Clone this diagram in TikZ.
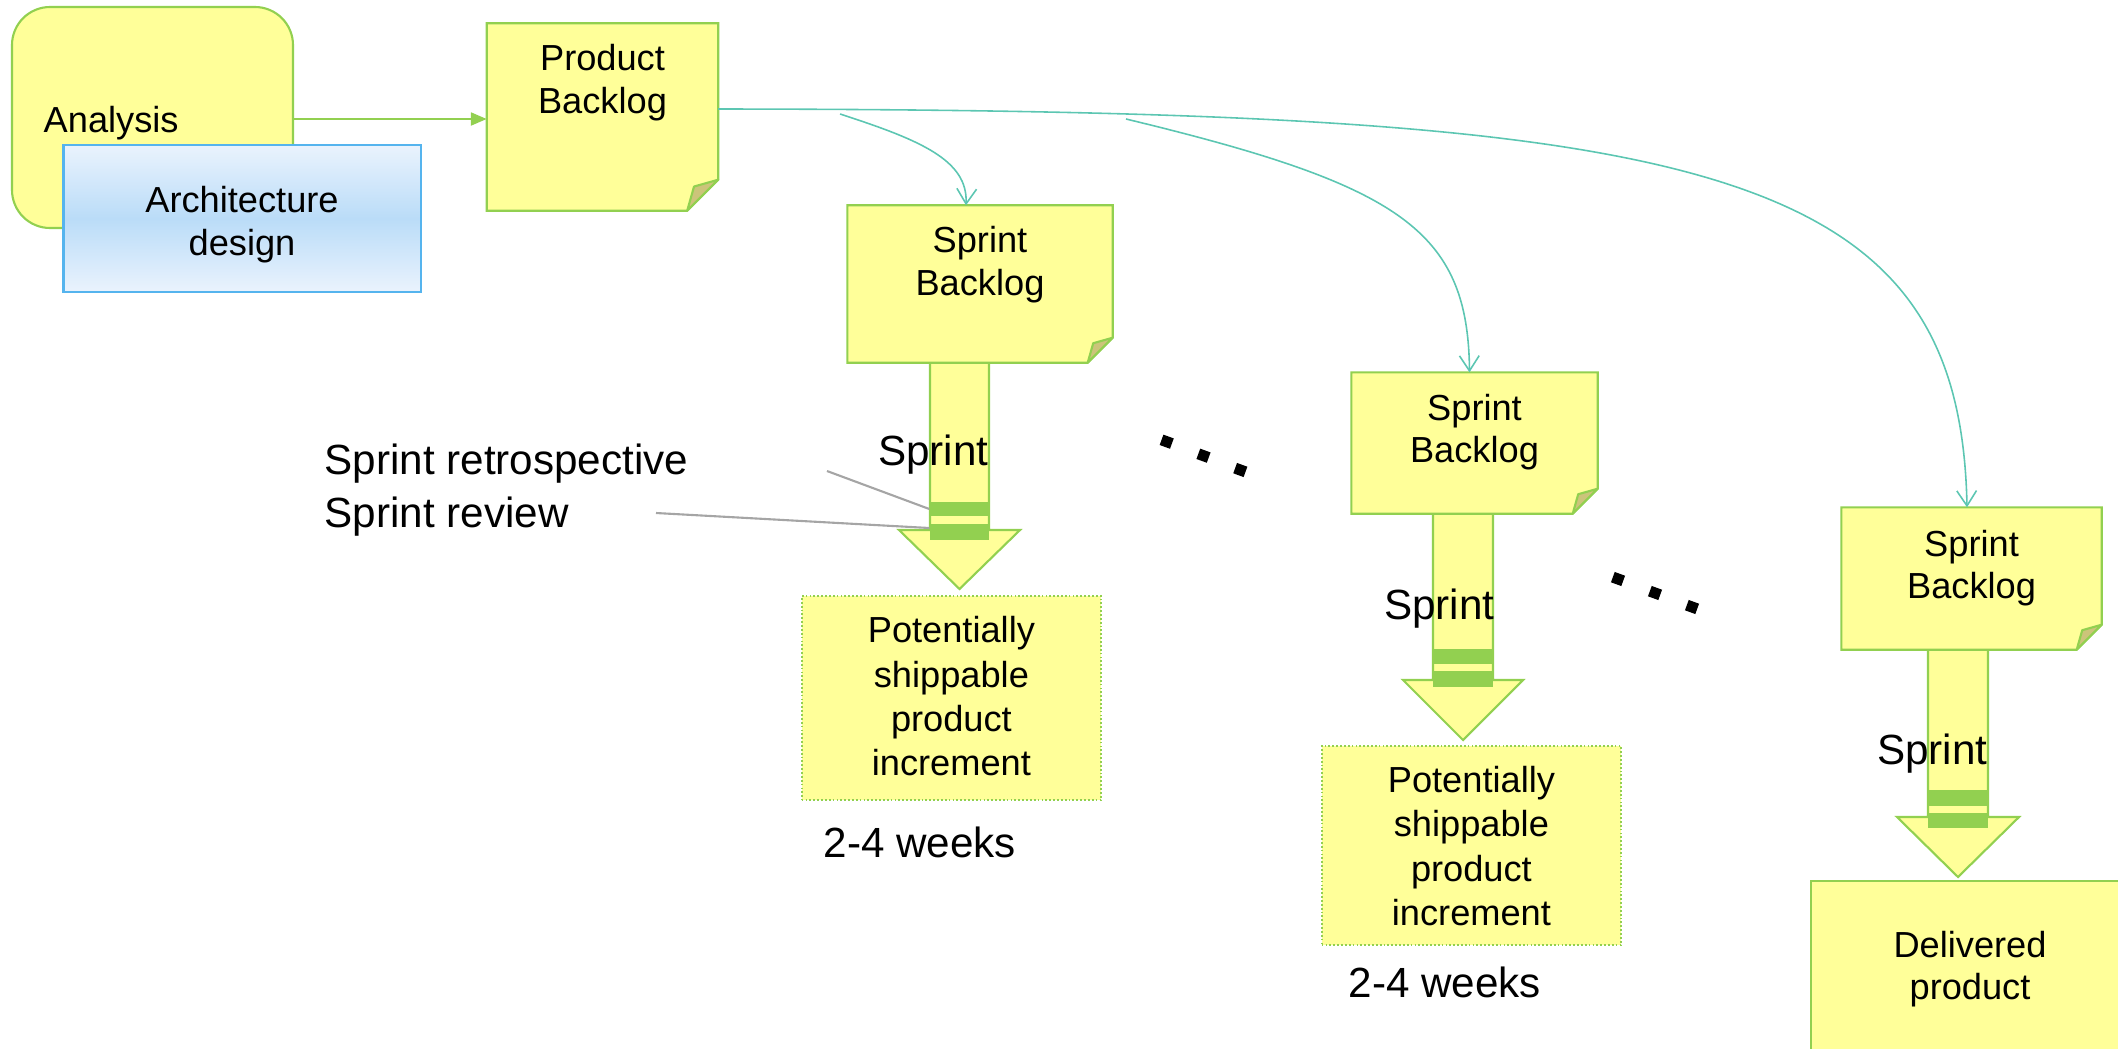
\documentclass[tikz,border=0pt]{standalone}
\usepackage{fontspec}
\setmainfont{Liberation Sans}
\usetikzlibrary{arrows.meta,calc,fit}

\definecolor{notefill}{RGB}{255,255,153}
\definecolor{noteline}{RGB}{146,208,80}
\definecolor{foldfill}{RGB}{204,196,122}
\definecolor{flowline}{RGB}{92,198,178}
\definecolor{archline}{RGB}{85,180,238}
\definecolor{archlight}{RGB}{234,243,253}
\definecolor{archmid}{RGB}{186,220,248}
\definecolor{leadergray}{RGB}{165,165,165}

\tikzset{
  notearea/.style={rectangle, inner sep=0pt, draw=none},
  notebody/.style={fill=notefill, draw=noteline, line width=0.6pt, line join=miter},
  noteflap/.style={fill=foldfill, draw=noteline, line width=0.6pt, line join=round},
  boxtext/.style={font=\fontsize{10.3}{12.2}\selectfont, align=center, inner sep=0pt, anchor=base},
  bigtext/.style={font=\fontsize{12}{14.8}\selectfont, align=left, inner sep=0pt},
  blockarrow/.style={fill=notefill, draw=noteline, line width=0.6pt, line join=miter},
  stripe/.style={rectangle, inner sep=0pt, fill=noteline, draw=none},
  result/.style={rectangle, inner sep=0pt, fill=notefill, draw=noteline, line width=0.5pt, dash pattern=on 0.5pt off 0.6pt},
  flow/.style={draw=flowline, line width=0.45pt, -{Straight Barb[length=4.3pt,width=5.6pt]}},
  feed/.style={draw=noteline, line width=0.8pt, -{Triangle[length=4.5pt,width=3.6pt]}},
  leader/.style={draw=leadergray, line width=0.6pt},
  dotmark/.style={rectangle, fill=black, inner sep=0pt, minimum size=1.1mm, rotate=-20},
}

% sticky note with a curled lower right corner: name, corner, corner, fold size
\newcommand\drawnote[4]{%
  \node[notearea, fit={#2 #3}] (#1) {};
  \draw[notebody] (#1.north west) -- (#1.north east)
    -- ($(#1.south east)+(0,-#4)$) -- ($(#1.south east)+(-#4,0)$)
    -- (#1.south west) -- cycle;
  \draw[noteflap] ($(#1.south east)+(-#4,0)$)
    -- ($(#1.south east)+({-0.78*#4},{-0.78*#4})$)
    -- ($(#1.south east)+(0,-#4)$) -- cycle;
}

\begin{document}
\begin{tikzpicture}[x=0.01cm, y=-0.01cm]
\useasboundingbox (0,0) rectangle (2118,1048);
\clip (0,0) rectangle (2118,1048);

% analysis and architecture (multi-line labels sit on the baseline of their last line)
\node[notearea, fit={(12,7)(293,228)}, fill=notefill, draw=noteline, line width=0.6pt, rounded corners=3.8mm] (analysis) {};
\node[font=\fontsize{10.3}{12.2}\selectfont, inner sep=0pt, anchor=base west] (analysislabel) at (43,132) {Analysis};
\node[notearea, fit={(63.5,145)(421,292)}, draw=archline, line width=0.7pt, top color=archlight, bottom color=archlight, middle color=archmid] (arch) {};
\node[boxtext] (archlabel) at (242,255) {Architecture\\design};

% product backlog
\drawnote{pb}{(487.5,24)}{(717.5,210)}{31}
\node[boxtext] (pblabel) at (602.5,113.6) {Product\\Backlog};
\draw[feed] ($(analysis.east)+(0,1.5)$) -- ($(pb.west)+(0,2)$);

% sprint arrows
\draw[blockarrow] (930,362) -- (930,530) -- (899,530) -- (959.5,589) -- (1020,530) -- (989,530) -- (989,362) -- cycle;
\draw[blockarrow] (1433,513) -- (1433,680) -- (1403,680) -- (1463,740) -- (1523,680) -- (1493,680) -- (1493,513) -- cycle;
\draw[blockarrow] (1928,649) -- (1928,817) -- (1897,817) -- (1958,877) -- (2019,817) -- (1988,817) -- (1988,649) -- cycle;

\node[stripe, fit={(930,502)(989,516)}] (s1a) {};
\node[stripe, fit={(930,524)(989,540)}] (s1b) {};
\node[stripe, fit={(1433,649)(1493,664)}] (s2a) {};
\node[stripe, fit={(1433,671)(1493,687)}] (s2b) {};
\node[stripe, fit={(1928,790)(1988,806)}] (s3a) {};
\node[stripe, fit={(1928,813)(1988,828)}] (s3b) {};

% sprint backlogs
\drawnote{sb1}{(848,206)}{(1112,362)}{25}
\node[boxtext] (sb1label) at (980,295.6) {Sprint\\Backlog};
\drawnote{sb2}{(1352,373)}{(1597,513)}{25}
\node[boxtext] (sb2label) at (1474.5,462.9) {Sprint\\Backlog};
\drawnote{sb3}{(1842,508)}{(2101,649)}{25}
\node[boxtext] (sb3label) at (1971.5,598.9) {Sprint\\Backlog};

\node[bigtext, anchor=base east] (sprint1) at (989,465) {Sprint};
\node[bigtext, anchor=base east] (sprint2) at (1495,619) {Sprint};
\node[bigtext, anchor=base east] (sprint3) at (1988,764) {Sprint};

% sprint events
\node[bigtext, anchor=base west] (events) at (324,527) {Sprint retrospective\\Sprint review};
\coordinate (retroend) at (827,471);
\coordinate (reviewend) at (656,513);
\draw[leader] (retroend) -- (s1a.west);
\draw[leader] (reviewend) -- ($(s1b.west)+(0,-4)$);

% increments
\node[result, fit={(801.7,596)(1101,800)}] (inc1) {};
\node[boxtext, font=\fontsize{10.3}{12.6}\selectfont] (inc1label) at (951.4,775.9) {Potentially\\shippable\\product\\increment};
\node[result, fit={(1321.7,746)(1621,945)}] (inc2) {};
\node[boxtext, font=\fontsize{10.3}{12.6}\selectfont] (inc2label) at (1471.4,925.6) {Potentially\\shippable\\product\\increment};
\node[bigtext, anchor=base west] (weeks1) at (823,857) {2-4 weeks};
\node[bigtext, anchor=base west] (weeks2) at (1348,997) {2-4 weeks};

% delivered product
\node[notearea, fit={(1811,881)(2132,1055)}, fill=notefill, draw=noteline, line width=0.6pt] (delivered) {};
\node[boxtext] (deliveredlabel) at (1970,999.9) {Delivered\\product};

% ellipses between sprints
\node[dotmark] (gapa1) at (1166.7,441.7) {};
\node[dotmark] (gapa2) at (1203.5,455.7) {};
\node[dotmark] (gapa3) at (1240.3,470) {};
\node[dotmark] (gapb1) at (1618,579) {};
\node[dotmark] (gapb2) at (1655,593) {};
\node[dotmark] (gapb3) at (1692,607) {};

% backlog items flowing into the sprints
\coordinate (fork1) at (840,114);
\coordinate (fork2) at (1126,119);
\draw[flow] (fork1) .. controls (920,140) and (968,160) .. ($(sb1.north)+(-14,0)$);
\draw[flow] (fork2) .. controls (1400,185) and (1468,230) .. ($(sb2.north)+(-5,0)$);
\draw[flow] ($(pb.east)+(0,-8)$) .. controls (1700,110) and (1960,160) .. ($(sb3.north)+(-4.5,0)$);
\end{tikzpicture}
\end{document}
